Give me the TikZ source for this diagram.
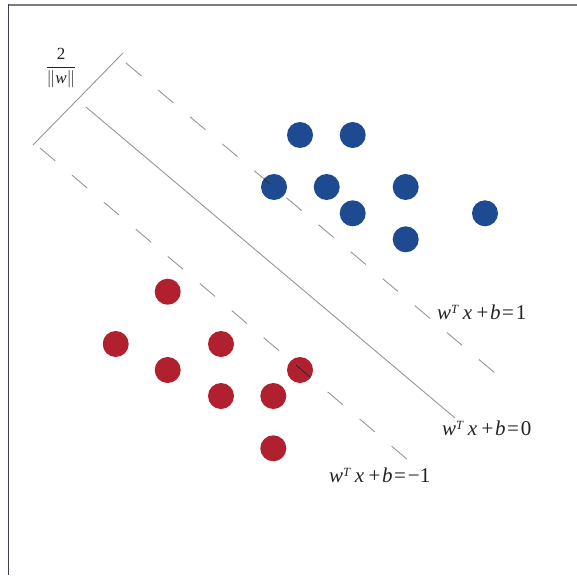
\documentclass[tikz,border=0pt]{standalone}
\usepackage{fontspec}
\setmainfont{Liberation Serif}
\definecolor{dotblue}{RGB}{30,74,145}
\definecolor{dotred}{RGB}{176,32,46}
\definecolor{linegray}{RGB}{150,150,150}
\definecolor{txt}{RGB}{35,35,35}
\newcommand\svmlbl[1]{\textit{w}\raisebox{0.62ex}{\fontsize{12.5}{12.5}\selectfont\textit{T}}\hspace{4pt}\textit{x}\hspace{4.5pt}+\hspace{1.5pt}\textit{b}\hspace{1.5pt}=\hspace{2pt}#1}
\begin{document}
\begin{tikzpicture}[x=1pt,y=-1pt,
  bdot/.style={circle,fill=dotblue,minimum size=26pt,inner sep=0pt},
  rdot/.style={circle,fill=dotred,minimum size=26pt,inner sep=0pt},
  hyper/.style={draw=linegray,line width=0.9pt},
  margin/.style={draw=linegray,line width=0.9pt,dash pattern=on 20pt off 21.9pt},
  lbl/.style={anchor=base west,inner sep=0pt,text=txt,font=\fontsize{21}{21}\selectfont}]
\useasboundingbox (0,0) rectangle (577,575);
\fill[white] (0,0) rectangle (577,575);
% frame
\draw[draw={rgb,255:red,125;green,125;blue,125},line width=1.4pt] (8.5,5) -- (577,5);
\draw[draw={rgb,255:red,60;green,60;blue,85},line width=1.8pt] (8.5,4.5) -- (8.5,575);
% blue points
\node[bdot] (b1) at (300,135) {};
\node[bdot] (b2) at (352.7,135) {};
\node[bdot] (b3) at (274,187) {};
\node[bdot] (b4) at (326.7,187) {};
\node[bdot] (b5) at (405.7,187) {};
\node[bdot] (b6) at (352.7,213.3) {};
\node[bdot] (b7) at (485,213.3) {};
\node[bdot] (b8) at (405.7,239.3) {};
% red points
\node[rdot] (r1) at (167.7,291.7) {};
\node[rdot] (r2) at (115.7,344) {};
\node[rdot] (r3) at (221,344) {};
\node[rdot] (r4) at (167.7,370) {};
\node[rdot] (r5) at (300,370) {};
\node[rdot] (r6) at (221,396) {};
\node[rdot] (r7) at (273.3,396) {};
\node[rdot] (r8) at (273.3,448.3) {};
% lines
\coordinate (u1) at (126,63);
\coordinate (u2) at (495,373);
\coordinate (m1) at (86,107);
\coordinate (m2) at (455,418);
\coordinate (l1) at (40,148);
\coordinate (l2) at (408,460);
\coordinate (p1) at (33,145);
\coordinate (p2) at (123,53);
\draw[margin] (u1) -- (u2);
\draw[hyper] (m1) -- (m2);
\draw[margin] (l1) -- (l2);
\draw[hyper] (p1) -- (p2);
% darker line segments over the dots
\begin{scope}
\clip (b3) circle (13pt);
\draw[margin,draw={rgb,255:red,20;green,30;blue,50}] (u1) -- (u2);
\end{scope}
\begin{scope}
\clip (r5) circle (13pt);
\draw[margin,draw={rgb,255:red,50;green,15;blue,20}] (l1) -- (l2);
\end{scope}
% labels
\node[lbl] (t1) at (437,319) {\svmlbl{1}};
\node[lbl] (t0) at (442,435) {\svmlbl{0}};
\node[lbl] (tm) at (329,482) {\svmlbl{−1}};
\node[text=txt,inner sep=0pt,font=\fontsize{17}{17}\selectfont] (frac) at (61,68) {$\displaystyle\frac{\mbox{2}}{\|\mbox{\textit{w}}\|}$};
\end{tikzpicture}
\end{document}
